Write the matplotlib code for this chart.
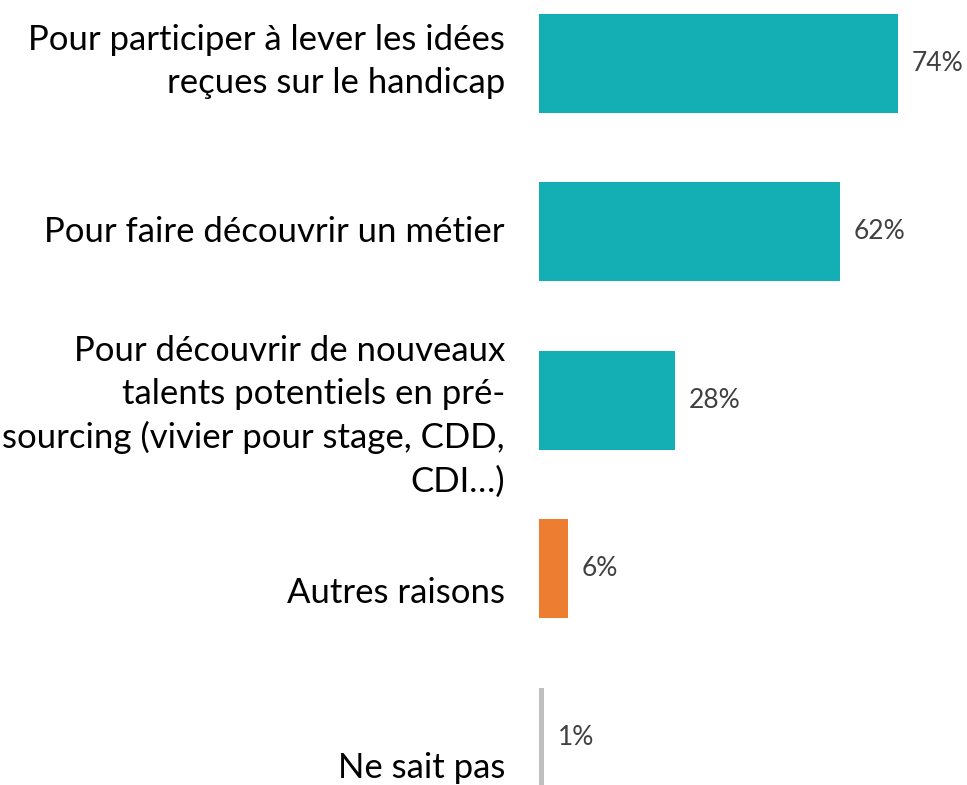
import matplotlib
matplotlib.use("Agg")
import matplotlib.pyplot as plt

categories = [
    "Pour participer à lever les idées\nreçues sur le handicap",
    "Pour faire découvrir un métier",
    "Pour découvrir de nouveaux\ntalents potentiels en pré-\nsourcing (vivier pour stage, CDD,\nCDI…)",
    "Autres raisons",
    "Ne sait pas",
]
values = [74, 62, 28, 6, 1]
value_labels = ["74%", "62%", "28%", "6%", "1%"]
colors = ["#13AFB5", "#13AFB5", "#13AFB5", "#ED7D31", "#BFBFBF"]
label_offsets_px = [2, 0, -16, -24, -31]  # vertical nudges of category labels

plt.rcParams['font.family'] = ['Lato', 'DejaVu Sans']

W, H = 967, 785
fig = plt.figure(figsize=(W / 100, H / 100), dpi=100)
ax_left = 539 / W
ax = fig.add_axes([ax_left, 0, 1 - ax_left, 1])

pos = list(range(len(values)))
ax.barh(pos, values, height=0.588, color=colors)
ax.set_xlim(0, 428 / 4.85)
ax.set_ylim(4 + 48 / 168.5, -63.5 / 168.5)
ax.axis("off")

for i, (v, lab) in enumerate(zip(values, value_labels)):
    ax.annotate(lab, xy=(v, i), xytext=(14, 0), textcoords="offset pixels",
                ha="left", va="center", fontsize=19, color="#404040")

for i, (cat, off) in enumerate(zip(categories, label_offsets_px)):
    ax.annotate(cat, xy=(0, i), xytext=(-34, off), textcoords="offset pixels",
                ha="right", va="center", fontsize=25, color="#000000",
                linespacing=1.42, annotation_clip=False)

fig.savefig("out.png", dpi=100)
